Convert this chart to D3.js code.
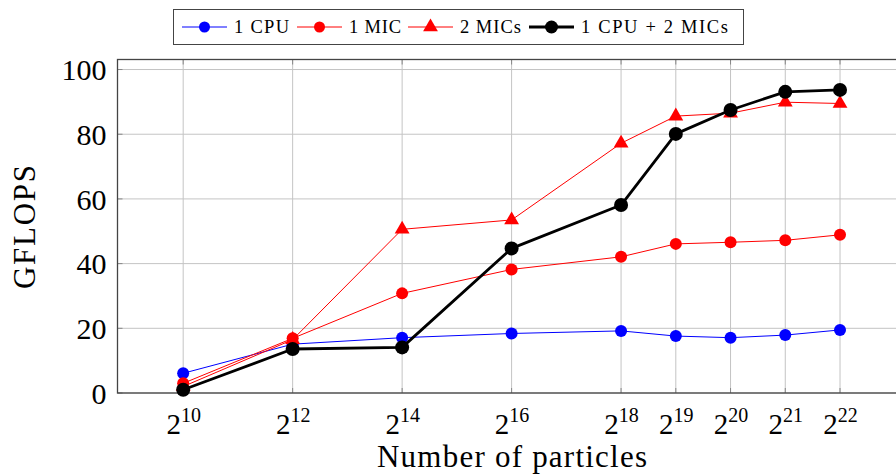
<!DOCTYPE html>
<html><head><meta charset="utf-8">
<script src="https://cdn.jsdelivr.net/npm/d3@7"></script>
<style>
html,body{margin:0;padding:0;background:#fff;overflow:hidden}
text{font-family:"Liberation Serif","DejaVu Serif",serif;fill:#000}
</style></head>
<body><svg id="c" width="896" height="476"></svg>
<script>
const exponents = [10, 12, 14, 16, 18, 19, 20, 21, 22];
const particles = exponents.map(e => Math.pow(2, e));
const cpu1      = [6.1, 15.1, 17.1, 18.4, 19.2, 17.6, 17.1, 17.9, 19.5];
const mic1      = [3.0, 16.9, 30.8, 38.2, 42.1, 46.1, 46.6, 47.2, 48.9];
const mic2      = [2.0, 16.5, 50.6, 53.5, 77.2, 85.6, 86.5, 89.9, 89.5];
const cpuMic2   = [1.0, 13.6, 14.1, 44.7, 58.1, 80.1, 87.5, 93.1, 93.7];
const yTicks    = [0, 20, 40, 60, 80, 100];
const seriesNames = ["1 CPU", "1 MIC", "2 MICs", "1 CPU + 2 MICs"];

const svg = d3.select("#c");
const L = 117.5, R = 905.7, T = 59.5, B = 393;
const x = d3.scaleLog().base(2).domain([Math.pow(2, 8.8), Math.pow(2, 23.2)]).range([L, R]);
const y = d3.scaleLinear().domain([0, 103.1]).range([B, T]);

// grid
const g = svg.append("g");
g.selectAll(".vg").data(particles).enter().append("line")
  .attr("x1", d => x(d)).attr("x2", d => x(d)).attr("y1", T).attr("y2", B)
  .attr("stroke", "#c4c4c4").attr("stroke-width", 1);
g.selectAll(".hg").data(yTicks).enter().append("line")
  .attr("x1", L).attr("x2", R).attr("y1", d => y(d)).attr("y2", d => y(d))
  .attr("stroke", "#c4c4c4").attr("stroke-width", 1);

// inward ticks
g.selectAll(".xt").data(particles).enter().append("path")
  .attr("d", d => `M${x(d)},${B}v-5M${x(d)},${T}v5`).attr("stroke", "#888").attr("stroke-width", 1);
g.selectAll(".yt").data(yTicks).enter().append("path")
  .attr("d", d => `M${L},${y(d)}h5M${R},${y(d)}h-5`).attr("stroke", "#888").attr("stroke-width", 1);

// frame
svg.append("rect").attr("x", L).attr("y", T).attr("width", R - L).attr("height", B - T)
  .attr("fill", "none").attr("stroke", "#444").attr("stroke-width", 1.3);

// axes labels via d3 axes
const xAxis = svg.append("g").attr("transform", `translate(0,${B})`)
  .call(d3.axisBottom(x).tickValues(particles).tickSize(0).tickFormat(""));
xAxis.select(".domain").remove();
xAxis.selectAll(".tick").each(function(d) {
  const t = d3.select(this).append("text").attr("y", 41).attr("text-anchor", "middle")
    .style("font-size", "29px");
  t.append("tspan").text("2");
  t.append("tspan").attr("dy", -12).style("font-size", "20px").text(String(Math.round(Math.log2(d))));
});

const yAxis = svg.append("g").attr("transform", `translate(${L},0)`)
  .call(d3.axisLeft(y).tickValues(yTicks).tickSize(0).tickPadding(11));
yAxis.select(".domain").remove();
yAxis.selectAll("text").style("font-size", "30px").attr("font-family", "Liberation Serif").attr("dy", "0.34em");

svg.append("text").attr("x", 512).attr("y", 467).attr("text-anchor", "middle")
  .attr("textLength", 270).style("font-size", "31px").text("Number of particles");
svg.append("text").attr("transform", "translate(35,227) rotate(-90)").attr("text-anchor", "middle")
  .attr("textLength", 124).style("font-size", "31px").text("GFLOPS");

// series
const series = [
  {name: seriesNames[0], vals: cpu1, color: "#0000ff", w: 1, mark: "circle", r: 6},
  {name: seriesNames[1], vals: mic1, color: "#ff0000", w: 1, mark: "circle", r: 6},
  {name: seriesNames[2], vals: mic2, color: "#ff0000", w: 1, mark: "triangle", r: 7},
  {name: seriesNames[3], vals: cpuMic2, color: "#000000", w: 2.8, mark: "circle", r: 7}
];
const line = d3.line().x((d, i) => x(particles[i])).y(d => y(d));
const tri = d3.symbol().type(d3.symbolTriangle).size(95);

function drawMark(sel, s, cx, cy) {
  if (s.mark === "circle") {
    sel.append("circle").attr("cx", cx).attr("cy", cy).attr("r", s.r).attr("fill", s.color);
  } else {
    sel.append("path").attr("d", tri).attr("transform", `translate(${cx},${cy})`).attr("fill", s.color);
  }
}

series.forEach(s => {
  const sg = svg.append("g");
  sg.append("path").datum(s.vals).attr("d", line).attr("fill", "none")
    .attr("stroke", s.color).attr("stroke-width", s.w).attr("stroke-linejoin", "round");
  s.vals.forEach((v, i) => drawMark(sg, s, x(particles[i]), y(v)));
});

// legend
const lg = svg.append("g");
lg.append("rect").attr("x", 173.5).attr("y", 9.5).attr("width", 570).attr("height", 35)
  .attr("fill", "#fff").attr("stroke", "#444").attr("stroke-width", 1);
const lx = [182, 297, 408, 529];
const lw = [55, 52, 61, 147];
series.forEach((s, i) => {
  const cy = 27;
  lg.append("line").attr("x1", lx[i]).attr("x2", lx[i] + 45).attr("y1", cy).attr("y2", cy)
    .attr("stroke", s.color).attr("stroke-width", s.w);
  const ms = s.mark === "circle" ? {...s, r: s.r - 0.5} : s;
  drawMark(lg, ms, lx[i] + 22.5, cy);
  lg.append("text").attr("x", lx[i] + 52).attr("y", cy + 6).attr("textLength", lw[i])
    .style("font-size", "18.5px").text(s.name);
});
</script></body></html>
